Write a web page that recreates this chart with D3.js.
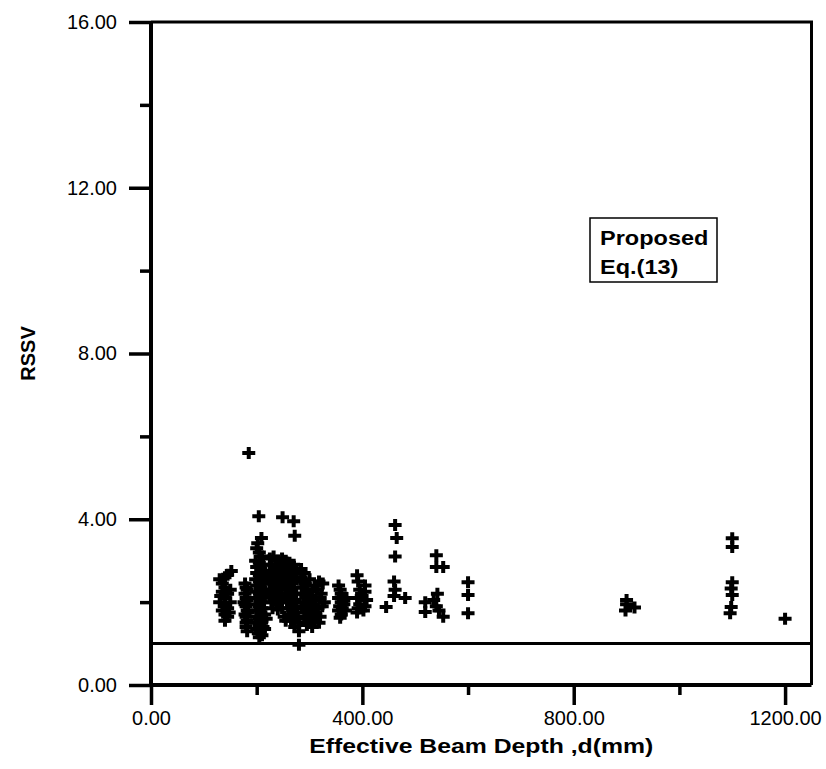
<!DOCTYPE html>
<html>
<head>
<meta charset="utf-8">
<script src="https://cdn.jsdelivr.net/npm/d3@7"></script>
<style>
  html, body { margin: 0; padding: 0; background: #fff; }
  svg { display: block; }
  text { font-family: "Liberation Sans", Arial, sans-serif; fill: #000; }
</style>
</head>
<body>
<svg id="chart" width="826" height="769"></svg>
<script>
// Axis ticks
const xMajorTicks = [0, 400, 800, 1200];
const xMinorTicks = [200, 600, 1000];
const yMajorTicks = [0, 4, 8, 12, 16];
const yMinorTicks = [2, 6, 10, 14];

// Reference level RSSV = 1
const referenceLevel = 1;

// Legend text
const legendLines = ["Proposed", "Eq.(13)"];

// Specimens: [effective depth d (mm), RSSV], grouped by depth band
const band130 = [
  [130, 2.55], [135, 2.45], [140, 2.6], [145, 2.66], [152, 2.75], [140, 2.35],
  [135, 2.25], [145, 2.2], [140, 2.1], [130, 2.0], [140, 1.95], [145, 1.85],
  [135, 1.8], [140, 1.7], [145, 1.65], [140, 1.55], [150, 2.3], [150, 2.0],
  [132, 2.15], [148, 1.75]
];
const band180 = [
  [178, 2.45], [180, 2.35], [182, 2.3], [178, 2.2], [180, 2.1], [182, 2.05],
  [178, 1.95], [180, 1.9], [182, 1.8], [178, 1.7], [180, 1.65], [182, 1.55],
  [180, 1.5], [176, 2.0], [184, 1.75], [180, 1.4], [182, 1.3], [185, 5.6]
];
const band200 = [
  [204, 4.07], [209, 3.55], [202, 3.42],
  [200, 3.3], [205, 3.2], [210, 3.1], [198, 3.0], [205, 2.95], [212, 2.9],
  [200, 2.85], [208, 2.8], [215, 2.75], [200, 2.7], [205, 2.65], [210, 2.6],
  [198, 2.55], [205, 2.5], [215, 2.45], [200, 2.4], [208, 2.35], [213, 2.3],
  [198, 2.25], [205, 2.2], [210, 2.15], [200, 2.1], [207, 2.05], [214, 2.0],
  [198, 1.95], [205, 1.9], [210, 1.85], [200, 1.8], [208, 1.75], [215, 1.7],
  [200, 1.65], [205, 1.6], [210, 1.55], [198, 1.5], [205, 1.45], [212, 1.4],
  [200, 1.35], [207, 1.3], [203, 1.25], [210, 1.2], [205, 1.15], [215, 1.35],
  [218, 1.6], [218, 2.2], [218, 2.6]
];
const band240 = [
  [249, 4.05], [225, 3.05], [232, 3.1], [240, 3.0], [248, 3.05], [228, 2.9],
  [236, 2.85], [245, 2.9], [225, 2.75], [233, 2.7], [242, 2.75], [250, 2.7],
  [228, 2.6], [237, 2.55], [246, 2.6], [225, 2.45], [233, 2.4], [242, 2.45],
  [250, 2.4], [228, 2.3], [237, 2.25], [246, 2.3], [225, 2.15], [233, 2.1],
  [242, 2.15], [250, 2.1], [228, 2.0], [237, 1.95], [246, 2.0], [230, 1.85],
  [240, 1.82], [248, 1.85], [252, 1.65], [255, 1.55]
];
const band265 = [
  [270, 3.95], [272, 3.6],
  [255, 3.0], [262, 2.95], [270, 2.9], [258, 2.85], [266, 2.8], [275, 2.8],
  [255, 2.7], [263, 2.65], [272, 2.7], [258, 2.55], [267, 2.5], [276, 2.55],
  [255, 2.45], [262, 2.4], [270, 2.35], [258, 2.3], [266, 2.25], [275, 2.2],
  [255, 2.15], [263, 2.1], [272, 2.05], [258, 2.0], [266, 1.95], [275, 1.9],
  [260, 1.85], [268, 1.8], [276, 1.75], [262, 1.7], [270, 1.65], [278, 1.6],
  [265, 1.55], [280, 1.5], [280, 1.3], [280, 0.97], [272, 1.4]
];
const band300 = [
  [285, 2.5], [292, 2.45], [300, 2.55], [310, 2.4], [318, 2.5], [325, 2.45],
  [288, 2.35], [296, 2.3], [305, 2.25], [315, 2.3], [322, 2.2], [285, 2.2],
  [293, 2.15], [302, 2.1], [312, 2.05], [320, 2.1], [328, 2.0], [288, 2.0],
  [297, 1.95], [306, 1.9], [316, 1.85], [324, 1.9], [285, 1.85], [294, 1.8],
  [303, 1.75], [312, 1.7], [320, 1.65], [290, 1.65], [300, 1.6], [310, 1.55],
  [318, 1.5], [295, 1.45], [305, 1.4], [284, 2.6], [284, 2.8], [290, 2.7]
];
const band380 = [
  [355, 2.4], [358, 2.3], [360, 2.2], [355, 2.1], [360, 2.0], [357, 1.9],
  [362, 1.85], [355, 1.8], [360, 1.7], [358, 1.62], [365, 2.05], [365, 1.95],
  [370, 2.1], [368, 1.8], [390, 2.65], [392, 2.5], [395, 2.3], [390, 2.1],
  [395, 1.95], [392, 1.85], [390, 1.75], [405, 2.4], [405, 2.25], [408, 2.05],
  [405, 1.9], [402, 1.8], [398, 2.15]
];
const band460 = [
  [445, 1.88], [462, 3.86], [465, 3.55], [462, 3.1], [460, 2.5], [462, 2.3],
  [460, 2.15], [481, 2.1]
];
const band540 = [
  [540, 3.13], [540, 2.85], [553, 2.85], [542, 2.2], [535, 2.05], [540, 1.9],
  [519, 2.0], [519, 1.76], [553, 1.65], [545, 1.8]
];
const band600 = [[600, 2.48], [600, 2.17], [600, 1.73]];
const band900 = [[900, 2.05], [900, 1.95], [898, 1.8], [915, 1.87]];
const band1100 = [
  [1100, 3.54], [1100, 3.33], [1100, 2.48], [1098, 2.33], [1100, 2.17],
  [1098, 1.88], [1096, 1.73]
];
const band1200 = [[1200, 1.6]];

const specimens = [].concat(band130, band180, band200, band240, band265, band300,
  band380, band460, band540, band600, band900, band1100, band1200);

const svg = d3.select("#chart");
svg.append("rect").attr("width", 826).attr("height", 769).attr("fill", "#fff");

const x = d3.scaleLinear().domain([0, 1250]).range([151, 811.5]);
const y = d3.scaleLinear().domain([0, 16]).range([685, 22]);
const fmt = d3.format(".2f");

// Frame: top and right borders
svg.append("path")
  .attr("d", `M${x(0)},${y(16)}H${x(1250)}V${y(0)}`)
  .attr("fill", "none").attr("stroke", "#000").attr("stroke-width", 3);

// Bottom axis: labelled major ticks, short minor ticks
const gx = svg.append("g").attr("transform", `translate(0,${y(0)})`)
  .call(d3.axisBottom(x).tickValues(xMajorTicks).tickSize(20).tickPadding(6).tickFormat(fmt));
svg.append("g").attr("class", "minor").attr("transform", `translate(0,${y(0)})`)
  .call(d3.axisBottom(x).tickValues(xMinorTicks).tickSize(10).tickFormat(""));

// Left axis
const gy = svg.append("g").attr("transform", `translate(${x(0)},0)`)
  .call(d3.axisLeft(y).tickValues(yMajorTicks).tickSize(22).tickPadding(12).tickFormat(fmt));
svg.append("g").attr("class", "minor").attr("transform", `translate(${x(0)},0)`)
  .call(d3.axisLeft(y).tickValues(yMinorTicks).tickSize(11).tickFormat(""));

svg.selectAll(".minor .domain").remove();
gx.select(".domain").attr("d", `M${x(0) - 2},0H${x(1250)}`);
gy.select(".domain").attr("d", `M0,${y(0) + 2}V${y(16)}`);
svg.selectAll(".domain").attr("stroke", "#000").attr("stroke-width", 4);
svg.selectAll(".tick line").attr("stroke", "#000").attr("stroke-width", 3.5);
svg.selectAll(".tick text").attr("font-size", 20)
  .attr("font-family", "'Liberation Sans', Arial, sans-serif");

// Reference line at RSSV = 1
svg.append("line")
  .attr("x1", x(0)).attr("x2", x(1250))
  .attr("y1", y(referenceLevel)).attr("y2", y(referenceLevel))
  .attr("stroke", "#000").attr("stroke-width", 3);

// Plus markers
const plus = "M-6.5,0H6.5M0,-6V6";
svg.append("g").selectAll("path")
  .data(specimens)
  .join("path")
  .attr("transform", d => `translate(${x(d[0])},${y(d[1])})`)
  .attr("d", plus)
  .attr("fill", "none")
  .attr("stroke", "#000")
  .attr("stroke-width", 4);

// Axis titles (bold, slightly widened lettering)
svg.append("text")
  .attr("transform", `translate(${(x(0) + x(1250)) / 2},753) scale(1.18,1)`)
  .attr("text-anchor", "middle")
  .attr("font-size", 21).attr("font-weight", "bold")
  .text("Effective Beam Depth ,d(mm)");

svg.append("text")
  .attr("transform", `translate(35,${(y(0) + y(16)) / 2}) rotate(-90)`)
  .attr("text-anchor", "middle")
  .attr("font-size", 20).attr("font-weight", "bold")
  .text("RSSV");

// Legend box
const legend = svg.append("g").attr("transform", "translate(590,218)");
legend.append("rect")
  .attr("width", 127).attr("height", 64)
  .attr("fill", "#fff").attr("stroke", "#000").attr("stroke-width", 1.5);
legend.selectAll("text")
  .data(legendLines)
  .join("text")
  .attr("transform", (d, i) => `translate(10,${27 + i * 29}) scale(1.12,1)`)
  .attr("font-size", 21).attr("font-weight", "bold")
  .text(d => d);
</script>
</body>
</html>
